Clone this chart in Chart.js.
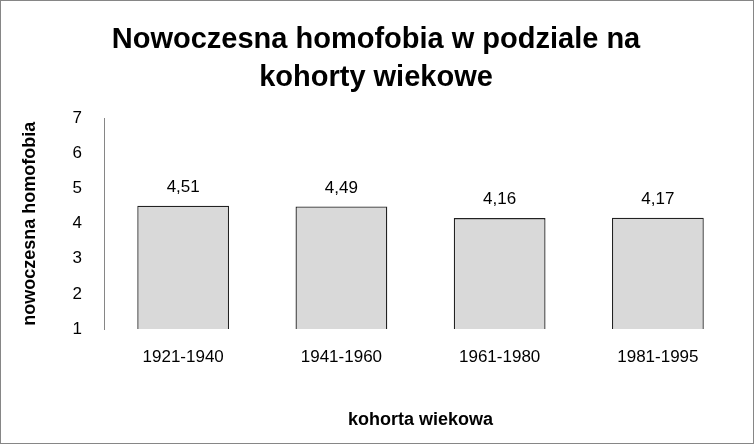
<!DOCTYPE html>
<html>
<head>
<meta charset="utf-8">
<script src="https://cdn.jsdelivr.net/npm/chart.js@4"></script>
<style>
  html, body { margin: 0; padding: 0; background: #fff; }
  #wrap { width: 752px; height: 442px; border: 1px solid #868686; position: relative; }
</style>
</head>
<body>
<div id="wrap"><canvas id="c" width="752" height="442"></canvas></div>
<script>
const categories = ['1921-1940', '1941-1960', '1961-1980', '1981-1995'];
const values = [4.51, 4.49, 4.16, 4.17];
const yMin = 1, yMax = 7;

// draw value labels above bars
const valueLabels = {
  id: 'valueLabels',
  afterDatasetsDraw(chart) {
    const ctx = chart.ctx;
    const meta = chart.getDatasetMeta(0);
    ctx.save();
    ctx.font = '17px "Liberation Sans", sans-serif';
    ctx.fillStyle = '#000';
    ctx.textAlign = 'center';
    ctx.textBaseline = 'bottom';
    meta.data.forEach((bar, i) => {
      ctx.fillText(values[i].toFixed(2).replace('.', ','), bar.x, bar.y - 10);
    });
    ctx.restore();
  }
};

new Chart(document.getElementById('c'), {
  type: 'bar',
  data: {
    labels: categories,
    datasets: [{
      data: values,
      backgroundColor: '#d9d9d9',
      borderColor: '#222',
      borderWidth: 1.3,
      categoryPercentage: 0.58,
      barPercentage: 1,
      base: yMin
    }]
  },
  options: {
    responsive: false,
    animation: false,
    layout: { padding: { left: 14, right: 16, top: 8, bottom: 8 } },
    plugins: {
      legend: { display: false },
      tooltip: { enabled: false },
      title: {
        display: true,
        text: ['Nowoczesna homofobia w podziale na', 'kohorty wiekowe'],
        color: '#000',
        font: { family: '"Liberation Sans", sans-serif', size: 29, weight: 'bold', lineHeight: 1.3 },
        padding: { top: 12, bottom: 22 }
      }
    },
    scales: {
      x: {
        grid: { display: false, drawTicks: false },
        border: { display: false },
        ticks: { color: '#000', font: { family: '"Liberation Sans", sans-serif', size: 17 }, padding: 18 },
        title: {
          display: true,
          text: 'kohorta wiekowa',
          color: '#000',
          font: { family: '"Liberation Sans", sans-serif', size: 18, weight: 'bold' },
          padding: { top: 24 }
        }
      },
      y: {
        min: yMin,
        max: yMax,
        grid: { display: false, drawTicks: false },
        border: { display: true, color: '#868686' },
        ticks: { stepSize: 1, color: '#000', font: { family: '"Liberation Sans", sans-serif', size: 17 }, padding: 22 },
        title: {
          display: true,
          text: 'nowoczesna homofobia',
          color: '#000',
          font: { family: '"Liberation Sans", sans-serif', size: 18, weight: 'bold' },
          padding: { bottom: 10 }
        }
      }
    }
  },
  plugins: [valueLabels]
});
</script>
</body>
</html>
